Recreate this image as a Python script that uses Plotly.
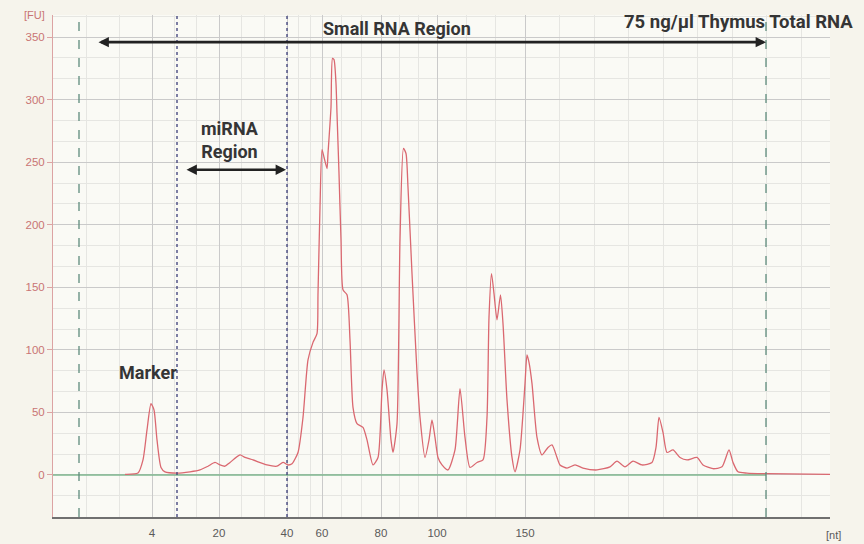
import plotly.graph_objects as go

# Electropherogram: migration time (s) vs fluorescence (FU)
time_s = [12.5, 13.8, 14.3, 14.7, 15.1, 15.4, 15.7, 16.1, 16.5, 17.7, 19.0, 20.0, 20.8,
          21.5, 22.0, 22.5, 23.0, 24.0, 24.5, 25.3, 26.7, 27.7, 28.3, 28.8, 29.2, 29.8,
          30.3, 30.8, 31.3, 31.7, 31.8, 32.0, 32.2, 32.4, 32.7, 32.8, 33.1, 33.25, 33.4,
          33.6, 33.7, 33.9, 34.1, 34.3, 34.7, 35.0, 35.3, 35.7, 36.3, 36.7, 37.3, 37.8,
          38.2, 38.4, 38.7, 39.1, 39.3, 39.7, 40.0, 40.35, 40.6, 40.8, 41.2, 41.7, 42.0,
          42.5, 42.9, 43.2, 43.5, 43.8, 44.2, 44.8, 45.5, 46.0, 46.5, 47.0, 47.7, 48.3,
          48.7, 48.9, 49.15, 49.4, 49.7, 50.05, 50.3, 50.7, 51.2, 51.5, 52.0, 52.5, 52.7,
          52.9, 53.2, 53.7, 54.2, 54.8, 55.2, 55.7, 56.0, 56.7, 57.5, 58.3, 59.7, 61.0,
          61.7, 62.5, 63.3, 64.2, 65.2, 65.6, 65.9, 66.3, 66.7, 67.3, 68.0, 68.7, 69.7,
          70.3, 71.3, 72.2, 72.9, 73.3, 73.8, 74.7, 76.7, 83.0]
fluor_fu = [0.5, 1.5, 12, 36, 57, 52, 28, 6, 2.5, 1.5, 2.5, 4, 7,
            10, 8, 7, 10, 16, 14, 12, 8, 7, 10, 8, 9, 18,
            46, 92, 106, 113, 145, 214, 260, 254, 245, 257, 294, 333, 332,
            313, 289, 241, 188, 148, 144, 108, 54, 41, 38, 28, 8, 14,
            68, 84, 68, 28, 18, 41, 188, 261, 257, 230, 161, 82, 46,
            14, 28, 44, 30, 14, 8, 4, 20, 69, 30, 6, 10, 12,
            46, 126, 161, 145, 124, 144, 121, 60, 14, 2.5, 20, 73, 96,
            90, 73, 30, 16, 22, 24, 14, 8, 5.5, 8, 5.5, 4, 6.5,
            11, 6.5, 11, 8, 10, 22, 46, 34, 18, 20, 14, 12, 14,
            8, 5, 6.5, 20, 10, 2.5, 1.5, 1, 0.5]

# Ladder sizes and their migration times
ladder_time = [15.2, 21.9, 28.7, 32.2, 38.1, 43.7, 52.5]
ladder_nt = ["4", "20", "40", "60", "80", "100", "150"]

# Region boundaries (s)
small_rna_region = [7.9, 76.6]
mirna_region = [17.7, 28.7]

fu_ticks = [0, 50, 100, 150, 200, 250, 300, 350]

x_range = [5.3, 83.0]
y_range = [-33.6, 367.7]

# minor vertical grid: thirds between ladder peaks, extended on both sides
minor_x = []
for a, b in zip(ladder_time[:-1], ladder_time[1:]):
    minor_x += [a + (b - a) / 3, a + 2 * (b - a) / 3]
minor_x += [ladder_time[0] - 3.3 * k for k in (1, 2)]
minor_x += [ladder_time[-1] + 3.45 * k for k in range(1, 9)]

RED = "#da6870"
PINK_AX = "#dca3a3"
PINK_TXT = "#c97474"
TXT = "#353535"
LBL_FONT = "Roboto"

fig = go.Figure()

# baseline
fig.add_trace(go.Scatter(x=[x_range[0], small_rna_region[1]], y=[0, 0], mode="lines",
                         line=dict(color="#7fb78f", width=1.5), hoverinfo="skip",
                         showlegend=False))
fig.add_trace(go.Scatter(x=time_s, y=fluor_fu, mode="lines",
                         line=dict(color=RED, width=1.3, shape="spline", smoothing=0.6),
                         showlegend=False))

for xv in small_rna_region:
    fig.add_shape(type="line", x0=xv, x1=xv, xref="x", y0=0, y1=1, yref="paper",
                  line=dict(color="#5f8c7c", width=1.3, dash="dash"))
for xv in mirna_region:
    fig.add_shape(type="line", x0=xv, x1=xv, xref="x", y0=0, y1=1, yref="paper",
                  line=dict(color="#3b3d78", width=1.3, dash="dot"))

# double-headed region arrows
fig.add_annotation(x=small_rna_region[1], y=346, ax=9.7, ay=346, xref="x", yref="y",
                   axref="x", ayref="y", text="", showarrow=True, arrowside="end+start",
                   arrowhead=2, arrowsize=0.8, arrowwidth=2.6, arrowcolor="#222222")
fig.add_annotation(x=mirna_region[1] - 0.1, y=244, ax=18.5, ay=244, xref="x", yref="y",
                   axref="x", ayref="y", text="", showarrow=True, arrowside="end+start",
                   arrowhead=2, arrowsize=0.8, arrowwidth=2.6, arrowcolor="#222222")

labels = [
    ("Small RNA Region", 39.7, 357, 18),
    ("75 ng/µl Thymus Total RNA", 73.8, 362, 18.5),
    ("miRNA<br>Region", 23.0, 268, 18),
    ("Marker", 14.8, 82, 18),
]
for txt, xv, yv, fs in labels:
    fig.add_annotation(x=xv, y=yv, xref="x", yref="y", text=txt, showarrow=False,
                       font=dict(family=LBL_FONT, size=fs, color=TXT, weight="bold"),
                       align="center")

fig.add_annotation(x=0, y=1, xref="paper", yref="paper", text="[FU]", showarrow=False,
                   xanchor="right", yanchor="middle", xshift=-6,
                   font=dict(family="Liberation Sans", size=11, color=PINK_TXT))
fig.add_annotation(x=1, y=0, xref="paper", yref="paper", text="[nt]", showarrow=False,
                   xanchor="center", yanchor="middle", xshift=3, yshift=-18,
                   font=dict(family="Liberation Sans", size=11, color="#5a5a5a"))

fig.update_layout(
    width=864, height=544,
    margin=dict(l=53, r=34, t=15, b=27, autoexpand=False),
    paper_bgcolor="#f6f4ec",
    plot_bgcolor="#fafaf5",
    xaxis=dict(range=x_range, tickmode="array", tickvals=ladder_time, ticktext=ladder_nt,
               showgrid=True, gridcolor="#cacaca", gridwidth=1, zeroline=False,
               showline=True, linecolor="#707070", linewidth=1.5, ticks="",
               ticklabelstandoff=4, automargin=False,
               tickfont=dict(family="Liberation Sans", size=11.5, color="#5a5a5a"),
               minor=dict(tickmode="array", tickvals=minor_x, showgrid=True,
                          gridcolor="#e6e6e2", gridwidth=1)),
    yaxis=dict(range=y_range, tickmode="array", tickvals=fu_ticks, automargin=False,
               showgrid=True, gridcolor="#cacaca", gridwidth=1, zeroline=False,
               showline=True, linecolor=PINK_AX, linewidth=1, ticks="outside",
               ticklen=5, tickcolor=PINK_AX,
               tickfont=dict(family="Liberation Sans", size=11.5, color=PINK_TXT),
               minor=dict(tick0=0, dtick=50 / 3, showgrid=True,
                          gridcolor="#e6e6e2", gridwidth=1)),
)

fig.write_html("out.html")
